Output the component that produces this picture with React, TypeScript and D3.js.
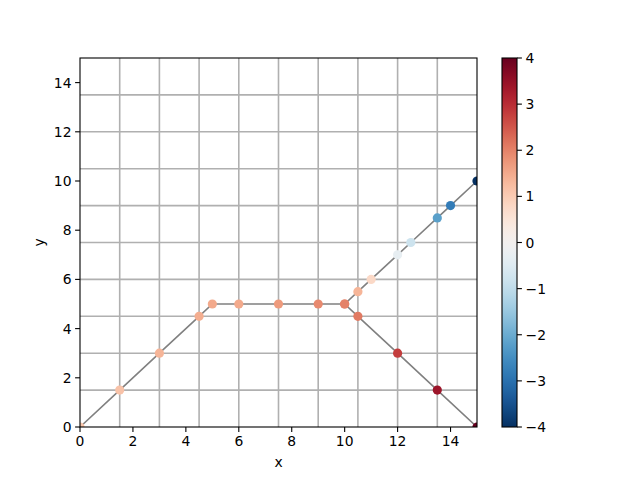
import React from "react";
import * as d3 from "d3";

const pathAX = [0, 1.5, 3, 4.5, 5, 6, 7.5, 9, 10, 10.5, 11, 12, 12.5, 13.5, 14, 15];
const pathAY = [0, 1.5, 3, 4.5, 5, 5, 5, 5, 5, 5.5, 6, 7, 7.5, 8.5, 9, 10];
const pathAC = [1.1, 1.15, 1.35, 1.45, 1.5, 1.5, 1.7, 1.9, 2.0, 1.35, 0.75, -0.3, -0.8, -2.2, -2.8, -4];
const pathBX = [10, 10.5, 12, 13.5, 15];
const pathBY = [5, 4.5, 3, 1.5, 0];
const pathBC = [2.0, 2.1, 2.8, 3.4, 4];
const xTicks = [0, 2, 4, 6, 8, 10, 12, 14];
const yTicks = [0, 2, 4, 6, 8, 10, 12, 14];
const gridTicks = [1.5, 3, 4.5, 6, 7.5, 9, 10.5, 12, 13.5];
const cbTicks = [-4, -3, -2, -1, 0, 1, 2, 3, 4];

const L = 80, R = 477, T = 58, B = 427;
const CBL = 502, CBR = 517;
const font = "DejaVu Sans, sans-serif";
const fs = 13.9;

const fmt = (v: number) => (v < 0 ? "\u2212" + Math.abs(v) : String(v));

export default function App() {
  const x = d3.scaleLinear().domain([0, 15]).range([L, R]);
  const y = d3.scaleLinear().domain([0, 15]).range([B, T]);
  const cy = d3.scaleLinear().domain([-4, 4]).range([B, T]);
  const color = (v: number) => d3.interpolateRdBu(1 - (v + 4) / 8);
  const line = d3.line<[number, number]>().x((d) => x(d[0])).y((d) => y(d[1]));
  const ptsA = pathAX.map((v, i) => [v, pathAY[i], pathAC[i]]);
  const ptsB = pathBX.map((v, i) => [v, pathBY[i], pathBC[i]]);
  const stops = d3.range(0, 1.0001, 0.02);

  return (
    <svg width={640} height={480} style={{ position: "absolute", left: 0, top: 0 }} fontFamily={font}>
      <rect width={640} height={480} fill="#fff" />
      <defs>
        <clipPath id="axclip">
          <rect x={L} y={T} width={R - L} height={B - T} />
        </clipPath>
        <linearGradient id="cb" x1="0" y1="1" x2="0" y2="0">
          {stops.map((t) => (
            <stop key={t} offset={t} stopColor={d3.interpolateRdBu(1 - t)} />
          ))}
        </linearGradient>
      </defs>
      <g clipPath="url(#axclip)">
        {gridTicks.map((g) => (
          <line key={"v" + g} x1={x(g)} x2={x(g)} y1={T} y2={B} stroke="#b0b0b0" strokeWidth={1.6} />
        ))}
        {gridTicks.map((g) => (
          <line key={"h" + g} x1={L} x2={R} y1={y(g)} y2={y(g)} stroke="#b0b0b0" strokeWidth={1.6} />
        ))}
        <path d={line(pathAX.map((v, i) => [v, pathAY[i]]) as any) || ""} fill="none" stroke="#808080" strokeWidth={1.6} />
        <path d={line(pathBX.map((v, i) => [v, pathBY[i]]) as any) || ""} fill="none" stroke="#808080" strokeWidth={1.6} />
        {[...ptsA, ...ptsB].map((p, i) => (
          <circle key={i} cx={x(p[0])} cy={y(p[1])} r={4.6} fill={color(p[2])} />
        ))}
      </g>
      <rect x={L} y={T} width={R - L} height={B - T} fill="none" stroke="#000" strokeWidth={1.1} />
      {xTicks.map((t) => (
        <g key={"xt" + t}>
          <line x1={x(t)} x2={x(t)} y1={B} y2={B + 4.9} stroke="#000" strokeWidth={1.1} />
          <text x={x(t)} y={B + 8.5} dy="0.76em" textAnchor="middle" fontSize={fs}>{fmt(t)}</text>
        </g>
      ))}
      {yTicks.map((t) => (
        <g key={"yt" + t}>
          <line x1={L - 4.9} x2={L} y1={y(t)} y2={y(t)} stroke="#000" strokeWidth={1.1} />
          <text x={L - 8.5} y={y(t)} dy="0.36em" textAnchor="end" fontSize={fs}>{fmt(t)}</text>
        </g>
      ))}
      <text x={(L + R) / 2} y={467} textAnchor="middle" fontSize={fs}>x</text>
      <text transform={`translate(${44},${(T + B) / 2}) rotate(-90)`} textAnchor="middle" fontSize={fs}>y</text>
      <rect x={CBL} y={T} width={CBR - CBL} height={B - T} fill="url(#cb)" stroke="#000" strokeWidth={1.1} />
      {cbTicks.map((t) => (
        <g key={"ct" + t}>
          <line x1={CBR} x2={CBR + 4.9} y1={cy(t)} y2={cy(t)} stroke="#000" strokeWidth={1.1} />
          <text x={CBR + 8.5} y={cy(t)} dy="0.36em" textAnchor="start" fontSize={fs}>{fmt(t)}</text>
        </g>
      ))}
    </svg>
  );
}
